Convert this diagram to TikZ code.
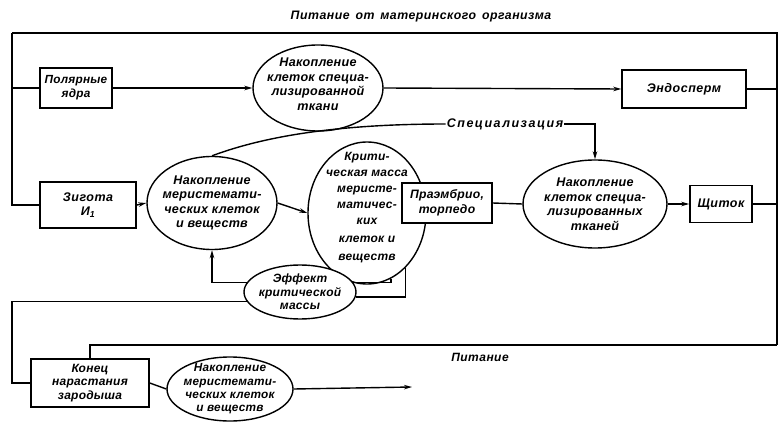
\documentclass[tikz,border=0pt]{standalone}
\usepackage{fontspec}
\setmainfont{Liberation Sans}
\newfontfamily\dfa[LetterSpace=2]{Liberation Sans}
\newfontfamily\dfb[LetterSpace=4]{Liberation Sans}
\newfontfamily\dfc[LetterSpace=12]{Liberation Sans}
\usetikzlibrary{shapes.geometric,arrows.meta}
\begin{document}
\begin{tikzpicture}[x=1pt,y=-1pt,
  every node/.style={font=\dfa\bfseries\itshape\fontsize{12.6}{14.5}\selectfont, align=center},
  box/.style={draw, line width=1.5pt, rectangle, inner sep=0pt, fill=white, font=\dfb\bfseries\itshape\fontsize{12.5}{14.5}\selectfont},
  oval/.style={draw, line width=1.4pt, ellipse, inner xsep=-30pt, inner ysep=-15pt, fill=white},
  ln/.style={line width=1.4pt},
  arr/.style={line width=1.4pt, -{Stealth[length=8pt,width=4.5pt]}},
  lbl/.style={inner sep=1pt},
]
\useasboundingbox (0,0) rectangle (779,422);
% frame coordinates
\coordinate (TL) at (12,33);
\coordinate (TR) at (777,33);
\coordinate (BR) at (777,345);
\coordinate (fend) at (412,387);

% nodes
\node[lbl, font=\dfb\bfseries\itshape\fontsize{12.3}{14}\selectfont] (title) at (421,17) {Питание\hspace{2pt} от\hspace{2pt} материнского\hspace{2pt} организма};
\node[box, minimum width=72, minimum height=40, font=\dfa\bfseries\itshape\fontsize{11.8}{14}\selectfont] (polar) at (76,88) {Полярные\\ядра};
\node[oval, minimum width=130, minimum height=86] (accA) at (318,88) {Накопление\\клеток специа-\\лизированной\\ткани\\[-7pt]\mbox{}};
\node[box, minimum width=124, minimum height=38] (endo) at (684,89) {Эндосперм};

\node[box, minimum width=96, minimum height=46] (zyg) at (88,205) {Зигота\\И\textsubscript{1}};
\node[oval, minimum width=130, minimum height=93] (accB) at (212,203) {Накопление\\меристемати-\\ческих клеток\\и веществ};
\node[oval, minimum width=118, minimum height=142, font=\dfa\bfseries\itshape\fontsize{12}{16}\selectfont] (crit) at (367,213)
  {Крити-\\ческая масса\\меристе-\hspace*{22pt}\\матичес-\hspace*{16pt}\\ких\\[2pt]клеток и\\[2pt]веществ\\[-3pt]\mbox{}};
\node[box, minimum width=90, minimum height=40, font=\dfa\bfseries\itshape\fontsize{12.2}{14.5}\selectfont] (praem) at (447,203) {Праэмбрио,\\торпедо};
\node[oval, minimum width=144, minimum height=88] (accD) at (595,204) {Накопление\\клеток специа-\\лизированных\\тканей};
\node[box, minimum width=62, minimum height=37] (shch) at (721,204) {Щиток};
\node[lbl, font=\dfc\bfseries\itshape\fontsize{12.5}{13}\selectfont] (spec) at (505,124) {Специализация};

\node[oval, minimum width=112, minimum height=54, font=\dfa\bfseries\itshape\fontsize{12}{13.5}\selectfont] (eff) at (300,292) {Эффект\\критической\\массы};
\node[box, minimum width=118, minimum height=48, font=\dfa\bfseries\itshape\fontsize{12}{13.5}\selectfont] (konec) at (90,383) {Конец\\нарастания\\зародыша};
\node[oval, minimum width=126, minimum height=64, font=\dfa\bfseries\itshape\fontsize{11.8}{13.3}\selectfont] (accF) at (230,389) {Накопление\\меристемати-\\ческих клеток\\и веществ};
\node[lbl, font=\dfb\bfseries\itshape\fontsize{12}{13}\selectfont] (pit) at (480,357) {Питание};

% connectors
\draw[ln] (TL) -- (TR) -- (BR);
\draw[ln] (TL) |- (zyg.west);
\draw[ln] (polar.west -| TL) -- (polar.west);
\draw[arr] (polar.east) -- (accA.west);
\draw[arr] (accA.east) -- (endo.west);
\draw[ln] (endo.east) -- (endo.east -| TR);
\draw[ln] (shch.east) -- (shch.east -| TR);
\draw[arr] (zyg.east) -- (accB.west);
\draw[arr] (accB.east) -- (crit.west);
\draw[ln] (praem.east) -- (accD.west);
\draw[arr] (accD.east) -- (shch.west);
\draw[ln] (accB.north) .. controls (260,138) and (330,124) .. (spec.west);
\draw[arr] (spec.east) -| (accD.north);
\draw[ln] (crit.290) |- (eff.10);
\draw[ln] (crit.305) |- (eff.-5);
\draw[arr] (eff.170) -| (accB.south);
\draw[ln] (eff.190) -- (eff.190 -| TL) |- (konec.west);
\draw[ln] (BR) -- (BR -| konec.north) -- (konec.north);
\draw[ln] (konec.east) -- (accF.west);
\draw[arr] (accF.east) -- (fend);
\end{tikzpicture}
\end{document}
